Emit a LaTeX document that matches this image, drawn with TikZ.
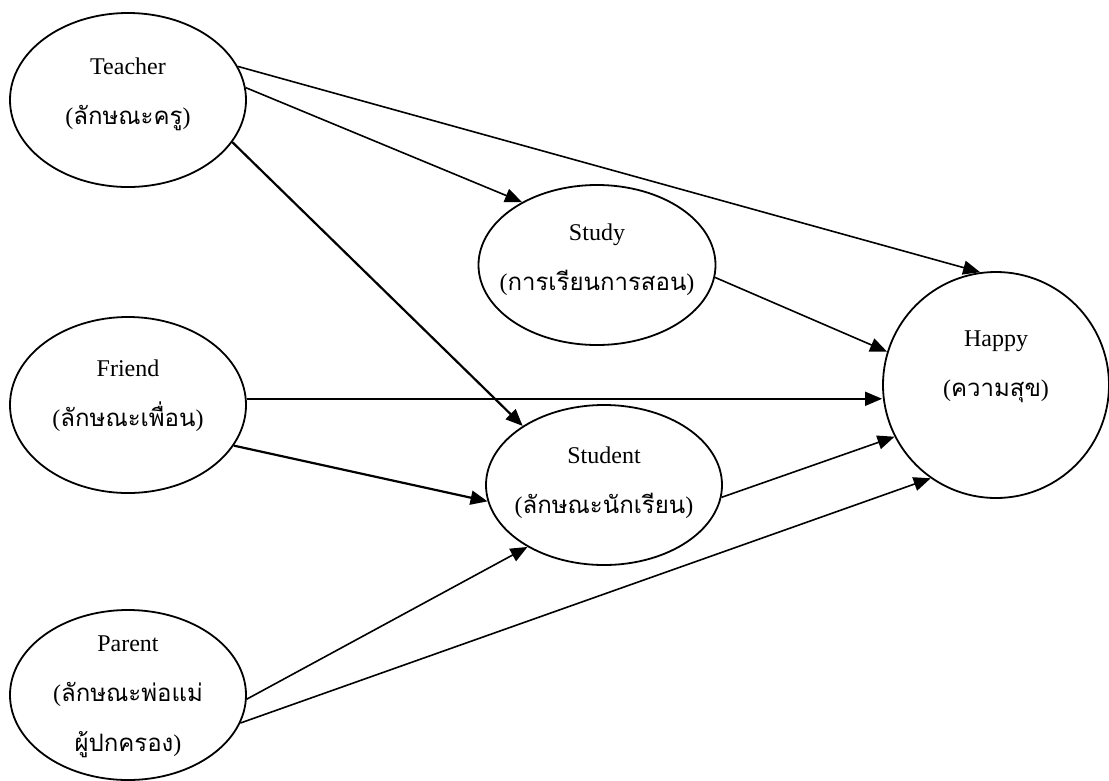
\documentclass[tikz,border=0pt]{standalone}
\usepackage{fontspec}
\setmainfont{Liberation Serif}
\newfontfamily\thai[Script=Thai]{Loma}
\usetikzlibrary{shapes.geometric,arrows.meta}
\begin{document}
\begin{tikzpicture}[x=1pt,y=-1pt,
  ell/.style={ellipse,draw,line width=1.8pt,inner sep=0pt},
  lbl/.style={align=center,font=\fontsize{24}{50}\selectfont},
  arr/.style={line width=1.6pt,-{Triangle[length=17pt,width=14pt]}},
  arrthick/.style={arr,line width=2.2pt}]
\useasboundingbox (0,0) rectangle (1109,780);
\node[ell,minimum width=236pt,minimum height=174pt] (teacher) at (128,100) {};
\node[ell,minimum width=236pt,minimum height=176pt] (friend) at (128,405) {};
\node[ell,minimum width=236pt,minimum height=170pt] (parent) at (128,695) {};
\node[ell,minimum width=237pt,minimum height=160pt] (study) at (597,265) {};
\node[ell,minimum width=236pt,minimum height=160pt] (student) at (604,485) {};
\node[ell,minimum width=226pt,minimum height=226pt] (happy) at (996,385) {};

\node[lbl] (tteacher) at ([yshift=6pt]teacher.center) {Teacher\\({\thai ลักษณะครู})};
\node[lbl] (tfriend) at ([yshift=9pt]friend.center) {Friend\\({\thai ลักษณะเพื่อน})};
\node[lbl] (tparent) at ([yshift=-2pt]parent.center) {Parent\\({\thai ลักษณะพ่อแม่}\\{\thai ผู้ปกครอง})};
\node[lbl] (tstudy) at ([yshift=5pt]study.center) {Study\\({\thai การเรียนการสอน})};
\node[lbl] (tstudent) at ([yshift=2pt]student.center) {Student\\({\thai ลักษณะนักเรียน})};
\node[lbl] (thappy) at ([yshift=18pt]happy.center) {Happy\\({\thai ความสุข})};

\draw[arr] (teacher.17) -- (happy.98);
\draw[arr] (teacher.6) -- (study.140);
\draw[arrthick] (teacher.-22) -- (student.144);
\draw[arr] (study.-6) -- (happy.163);
\draw[arr] (friend.3) -- (friend.3 -| happy.west);
\draw[arrthick] (friend.-21) -- (student.188);
\draw[arr] (student.-6) -- (happy.207);
\draw[arr] (parent.-2) -- (student.219);
\draw[arr] (parent.-14) -- (happy.235);
\end{tikzpicture}
\end{document}
